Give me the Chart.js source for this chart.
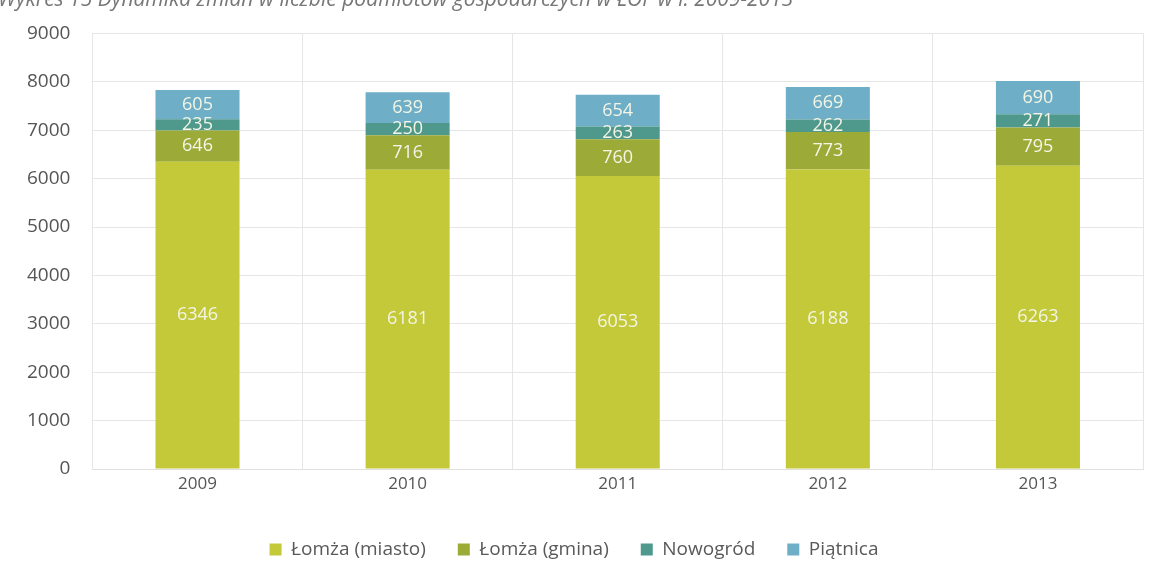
<!DOCTYPE html>
<html>
<head>
<meta charset="utf-8">
<script src="https://cdn.jsdelivr.net/npm/chart.js@4/dist/chart.umd.min.js"></script>
<style>
  html, body { margin: 0; padding: 0; background: #fff; }
  #wrap { position: relative; width: 1162px; height: 580px; overflow: hidden; }
  #title { position: absolute; left: -2px; top: -16px; font: italic 21px "Open Sans", sans-serif; color: #777; white-space: nowrap; }
</style>
</head>
<body>
<div id="wrap">
  <div id="title">Wykres 15 Dynamika zmian w liczbie podmiotów gospodarczych w ŁOF w l. 2009-2013</div>
  <canvas id="chart" width="1162" height="580"></canvas>
</div>
<script>
const years = ['2009', '2010', '2011', '2012', '2013']
const lomzaMiasto = [6346, 6181, 6053, 6188, 6263]
const lomzaGmina = [646, 716, 760, 773, 795]
const nowogrod = [235, 250, 263, 262, 271]
const piatnica = [605, 639, 654, 669, 690]
const yTicks = [0, 1000, 2000, 3000, 4000, 5000, 6000, 7000, 8000, 9000]

const font = '"Open Sans", sans-serif'

// value labels in the middle of every segment
const segmentLabels = {
    id: 'segmentLabels',
    afterDatasetsDraw(chart) {
        const ctx = chart.ctx
        ctx.save()
        ctx.font = '18px ' + font
        ctx.fillStyle = '#f3f5e6'
        ctx.textAlign = 'center'
        ctx.textBaseline = 'middle'
        chart.data.datasets.forEach((ds, i) => {
            chart.getDatasetMeta(i).data.forEach((bar, j) => {
                const p = bar.getProps(['x', 'y', 'base'], true)
                ctx.fillText(ds.data[j], p.x, (p.y + p.base) / 2)
            })
        })
        ctx.restore()
    }
}

new Chart(document.getElementById('chart'), {
    type: 'bar',
    data: {
        labels: years,
        datasets: [
            { label: 'Łomża (miasto)', data: lomzaMiasto, backgroundColor: '#c4c93a' },
            { label: 'Łomża (gmina)', data: lomzaGmina, backgroundColor: '#9cab37' },
            { label: 'Nowogród', data: nowogrod, backgroundColor: '#4f988c' },
            { label: 'Piątnica', data: piatnica, backgroundColor: '#6eaec6' }
        ]
    },
    options: {
        responsive: false,
        animation: false,
        layout: { padding: { left: 5, right: 19, top: 31, bottom: 11 } },
        datasets: { bar: { barPercentage: 0.4, categoryPercentage: 1 } },
        scales: {
            x: {
                stacked: true,
                grid: { color: '#e6e6e6', drawTicks: false },
                border: { color: '#e0e0e0' },
                ticks: { color: '#555', font: { family: font, size: 17 }, padding: 5 },
                afterFit: (axis) => { axis.height = 39 }
            },
            y: {
                stacked: true,
                min: 0,
                max: 9000,
                afterBuildTicks: (axis) => { axis.ticks = yTicks.map(v => ({ value: v })) },
                grid: { color: '#e6e6e6', drawTicks: false },
                border: { color: '#e6e6e6' },
                ticks: {
                    color: '#555',
                    font: { family: font, size: 19 },
                    padding: 22,
                    callback: (v) => String(v)
                }
            }
        },
        plugins: {
            tooltip: { enabled: false },
            legend: {
                position: 'bottom',
                labels: {
                    color: '#595959',
                    font: { family: font, size: 19 },
                    boxWidth: 12,
                    boxHeight: 12,
                    padding: 32
                }
            }
        }
    },
    plugins: [segmentLabels]
})
</script>
</body>
</html>
